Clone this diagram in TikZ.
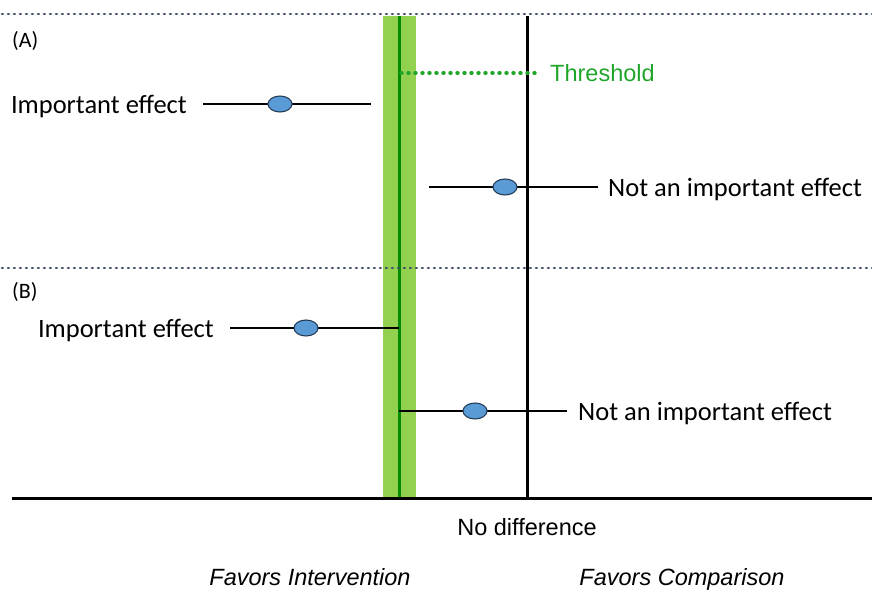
\documentclass[tikz,border=0pt]{standalone}
\usepackage{fontspec}
\usetikzlibrary{shapes.geometric}
\setmainfont{Carlito}
\newfontfamily\arialf{Liberation Sans}
\definecolor{dotblue}{HTML}{3E4C62}
\definecolor{bandgreen}{HTML}{92D050}
\definecolor{darkgreen}{HTML}{008A00}
\definecolor{thrgreen}{HTML}{1FA52A}
\definecolor{ptblue}{HTML}{5B9BD5}
\definecolor{ptedge}{HTML}{243C55}
\begin{document}
\begin{tikzpicture}[x=1pt,y=-1pt,
  sepline/.style={dotblue,line width=2.6pt,line cap=round,dash pattern=on 0.8pt off 5.2pt},
  bar/.style={black,line width=2pt},
  pt/.style={ellipse,draw=ptedge,line width=1.1pt,fill=ptblue,minimum width=24pt,minimum height=16pt,inner sep=0pt},
  lab/.style={font=\fontsize{26.5}{30}\selectfont,inner sep=0pt},
  small/.style={font=\fontsize{22}{25}\selectfont,inner sep=0pt,anchor=base west},
  ar/.style={font=\arialf\fontsize{23.5}{28}\selectfont,inner sep=0pt,anchor=base},
  ari/.style={font=\arialf\itshape\fontsize{23.5}{28}\selectfont,inner sep=0pt,anchor=base}]
\useasboundingbox (0,0) rectangle (872,592);
% band and reference lines
\fill[bandgreen] (383,16) rectangle (416,498);
\coordinate (gtop) at (399,16);
\coordinate (gbot) at (399,498);
\draw[darkgreen,line width=3pt] (gtop) -- (gbot);
\coordinate (ntop) at (527,16);
\coordinate (nbot) at (527,498);
\draw[black,line width=3pt] (ntop) -- (nbot);
\coordinate (axl) at (12,498);
\coordinate (axr) at (872,498);
\draw[black,line width=3pt] (axl) -- (axr);
% separators
\coordinate (s1l) at (2,14); \coordinate (s1r) at (872,14);
\coordinate (s2l) at (2,268); \coordinate (s2r) at (872,268);
\draw[sepline] (s1l) -- (s1r);
\draw[sepline] (s2l) -- (s2r);
\node[small] (la) at (12,47) {(A)};
\node[small] (lb) at (12,298) {(B)};
% threshold
\coordinate (th1) at (401,73);
\coordinate (th2) at (541,73);
\draw[thrgreen,line width=3.4pt,line cap=round,dash pattern=on 1pt off 6pt] (th1) -- (th2);
\node[ar,anchor=base west,text=thrgreen] (thr) at (550,81) {Threshold};
% row A1
\coordinate (a1l) at (203,104); \coordinate (a1r) at (371,104);
\draw[bar] (a1l) -- (a1r);
\node[pt] (a1) at (280,104) {};
\node[lab,anchor=base east] (ta1) at (187,113) {Important effect};
% row A2
\coordinate (a2l) at (429,187); \coordinate (a2r) at (598,187);
\draw[bar] (a2l) -- (a2r);
\node[pt] (a2) at (505,187) {};
\node[lab,anchor=base west] (ta2) at (608,196) {Not an important effect};
% row B1
\coordinate (b1l) at (230,328); \coordinate (b1r) at (399,328);
\draw[bar] (b1l) -- (b1r);
\node[pt] (b1) at (306,328) {};
\node[lab,anchor=base east] (tb1) at (214,337) {Important effect};
% row B2
\coordinate (b2l) at (399,411); \coordinate (b2r) at (567,411);
\draw[bar] (b2l) -- (b2r);
\node[pt] (b2) at (475,411) {};
\node[lab,anchor=base west] (tb2) at (578,420) {Not an important effect};
% axis labels
\node[ar] (nd) at (527,535) {No difference};
\node[ari] (fi) at (310,585) {Favors Intervention};
\node[ari] (fc) at (682,585) {Favors Comparison};
\end{tikzpicture}
\end{document}
